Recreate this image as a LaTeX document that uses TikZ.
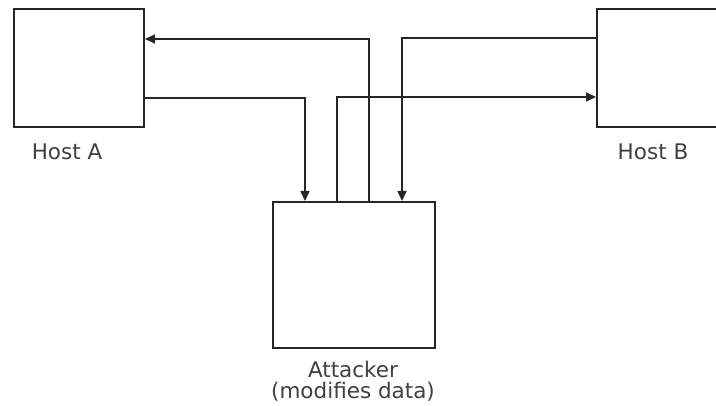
\documentclass[tikz,border=0pt]{standalone}
\usepackage{fontspec}
\setmainfont{DejaVu Sans}
\usetikzlibrary{arrows.meta}
\begin{document}
\begin{tikzpicture}[x=1pt,y=-1pt,
  hostbox/.style={draw=black!85,line width=2pt,inner sep=0pt},
  conn/.style={draw=black!85,line width=1.6pt},
  arr/.style={conn,-{Triangle[length=10pt,width=9pt]}},
  lbl/.style={text=black!75,font=\fontsize{21.5}{21}\selectfont,inner sep=0pt}]
\clip (0,0) rectangle (716,406);
\fill[white] (0,0) rectangle (716,406);
\node[hostbox,minimum width=130pt,minimum height=118pt] (hostA) at (79,68) {};
\node[hostbox,minimum width=140pt,minimum height=118pt] (hostB) at (667,68) {};
\node[hostbox,minimum width=162pt,minimum height=146pt] (attacker) at (354,275) {};
\node[lbl] (labA) at (67,152) {Host A};
\node[lbl] (labB) at (653,152) {Host B};
\node[lbl,align=center] (labC) at (353,381) {Attacker\\(modifies data)};
% Host A -> attacker
\draw[arr] (hostA.east |- 0,98) -| ([xshift=33pt]attacker.north west);
% attacker -> Host B
\draw[arr] ([xshift=65pt]attacker.north west) |- (hostB.west |- 0,97);
% attacker -> Host A
\draw[arr] ([xshift=97pt]attacker.north west) |- (hostA.east |- 0,39);
% Host B -> attacker
\draw[arr] (hostB.west |- 0,38) -| ([xshift=130pt]attacker.north west);
\end{tikzpicture}
\end{document}
